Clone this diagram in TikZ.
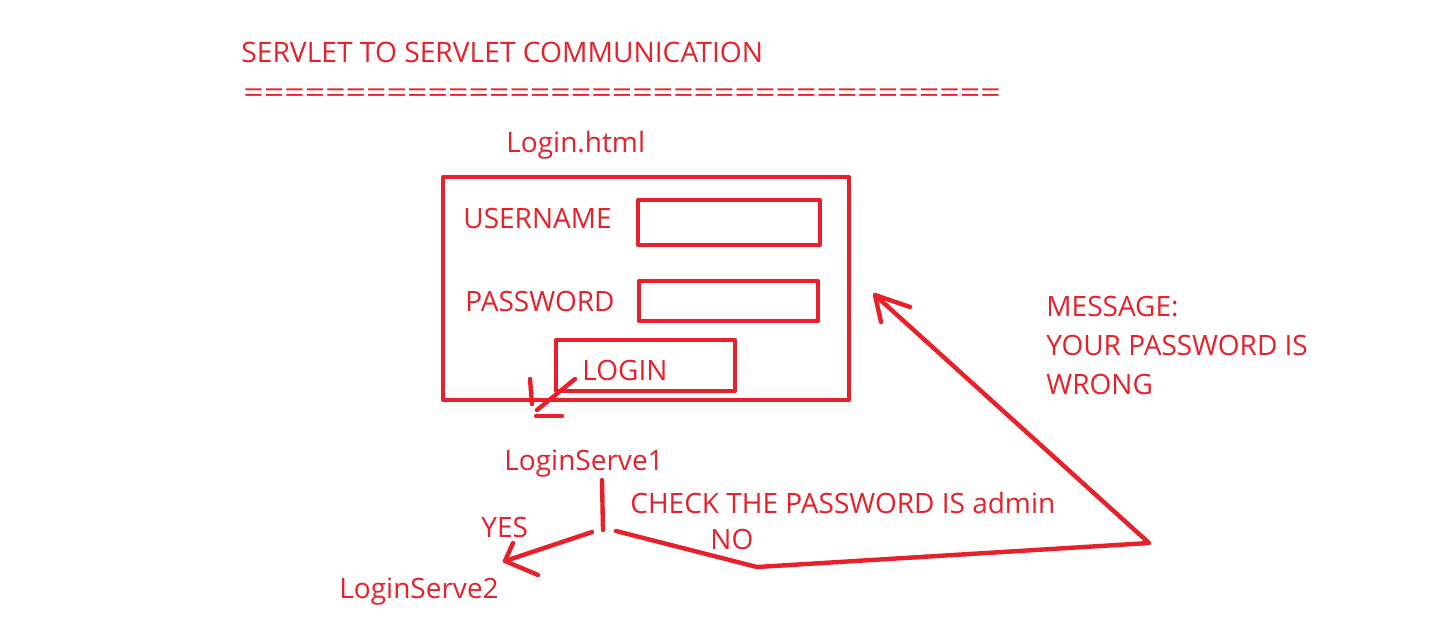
\documentclass[tikz,border=0pt]{standalone}
\usepackage{fontspec}
\usepackage{graphicx}
\setmainfont{Open Sans}
\definecolor{pen}{RGB}{232,32,42}
\begin{document}
\begin{tikzpicture}[x=0.5pt,y=-0.5pt,
  lbl/.style={anchor=base west,inner sep=0pt,text=pen,font=\fontsize{14pt}{17pt}\selectfont},
  stroke/.style={draw=pen,line width=2pt,line cap=round,line join=round},
  ink/.style={draw=pen,line width=2.2pt,line cap=round,line join=round}]
\useasboundingbox[fill=white] (0,0) rectangle (1443,633);
% texts
\node[lbl,font=\fontsize{14.1pt}{17pt}\selectfont] (title) at (241,62) {SERVLET TO SERVLET COMMUNICATION};
\node[lbl] (eq) at (243,102) {\resizebox{378.5pt}{\height}{=====================================}};
\node[lbl] (html) at (506,152) {Login.html};
\node[lbl] (user) at (463,228) {USERNAME};
\node[lbl] (pass) at (465,311) {PASSWORD};
\node[lbl] (login) at (582,380) {LOGIN};
\node[lbl] (ls1) at (504,470) {LoginServe1};
\node[lbl] (check) at (630,513) {CHECK THE PASSWORD IS admin};
\node[lbl] (yes) at (481,537) {YES};
\node[lbl] (no) at (710,549) {NO};
\node[lbl] (ls2) at (339,598) {LoginServe2};
\node[lbl,align=left,anchor=north west,font=\fontsize{14pt}{19.5pt}\selectfont] (msg) at (1046,296) {MESSAGE:\\YOUR PASSWORD IS\\WRONG};
% boxes
\draw[stroke] (443,177) rectangle (849,400);
\draw[stroke] (638,200) rectangle (820,245);
\draw[stroke] (639,281) rectangle (818,321);
\draw[stroke] (556,340) rectangle (735,391);
% login arrow
\coordinate (a1) at (575,379);
\coordinate (a2) at (537,410);
\draw[ink] (a1) -- (a2);
\draw[ink] (530,379) -- (532,404);
\draw[ink] (536,416) -- (562,416);
% LoginServe1 stem
\coordinate (s1) at (602,480);
\coordinate (s2) at (603,530);
\draw[ink] (s1) -- (s2);
% YES arrow
\coordinate (y1) at (592,532);
\coordinate (y2) at (505,561);
\draw[ink] (y1) -- (y2);
\draw[ink] (513,543) -- (y2) -- (538,575);
% NO path back to form
\coordinate (n1) at (616,531);
\coordinate (n2) at (757,567);
\coordinate (n3) at (1149,543);
\coordinate (n4) at (875,295);
\draw[ink] (n1) -- (n2);
\draw[ink] (n2) -- (n3) -- (n4);
\draw[ink] (910,307) -- (n4) -- (881,322);
\end{tikzpicture}
\end{document}
